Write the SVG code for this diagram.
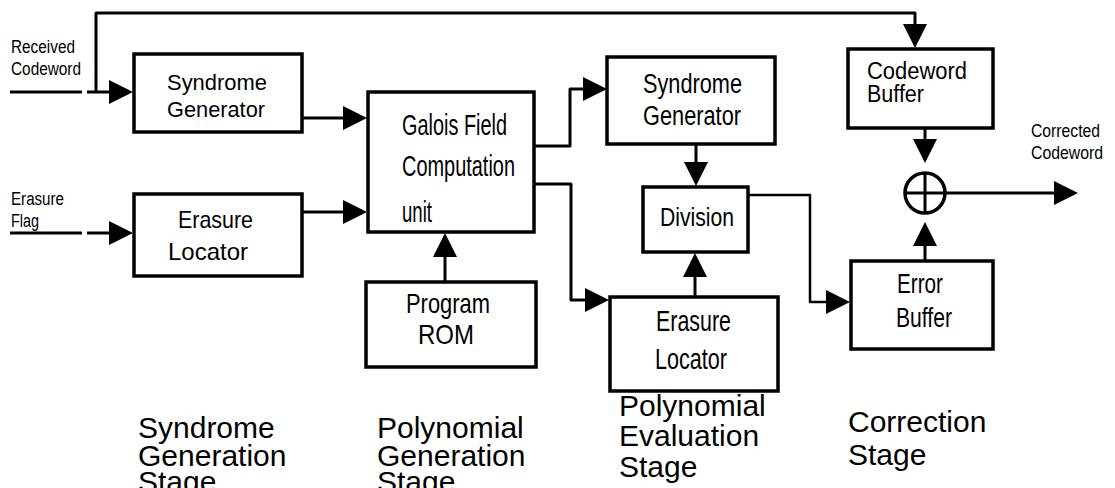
<svg xmlns="http://www.w3.org/2000/svg" width="1115" height="488" viewBox="0 0 1115 488">
<style>
.box{fill:#fff;stroke:#000;stroke-width:3.5}
.ln{fill:none;stroke:#000;stroke-width:3;stroke-linejoin:round}
.thin{stroke-width:2.5}
text{font-family:"Liberation Sans",Arial,sans-serif;fill:#000}
.sm{font-size:18px}
.st{font-size:30px}
</style>
<defs>
<marker id="ah" markerUnits="userSpaceOnUse" markerWidth="24" markerHeight="24" viewBox="0 0 24 24" refX="0" refY="12" orient="auto" overflow="visible">
<path d="M0,0 L24,12 L0,24 z" fill="#000"/>
</marker>
</defs>
<rect width="1115" height="488" fill="#fff"/>

<g id="connectors">
<path class="ln" d="M10,92 H82 M87,92 H109" marker-end="url(#ah)"/>
<path class="ln" d="M96,92 V13 H915 V24" marker-end="url(#ah)"/>
<path class="ln" d="M10,233 H82 M87,233 H109" marker-end="url(#ah)"/>
<path class="ln" d="M302,118 H343" marker-end="url(#ah)"/>
<path class="ln" d="M302,212 H343" marker-end="url(#ah)"/>
<path class="ln" d="M534,146 H570 V89 H583" marker-end="url(#ah)"/>
<path class="ln" d="M534,184 H571 V300 H585" marker-end="url(#ah)"/>
<path class="ln" d="M445,282 V257" marker-end="url(#ah)"/>
<path class="ln" d="M696,144 V162" marker-end="url(#ah)"/>
<path class="ln" d="M695,296 V277" marker-end="url(#ah)"/>
<path class="ln thin" d="M748,195 H810 V302 H826" marker-end="url(#ah)"/>
<path class="ln" d="M925,128 V139" marker-end="url(#ah)"/>
<path class="ln" d="M925,260 V246" marker-end="url(#ah)"/>
<path class="ln" d="M945,193 H1054" marker-end="url(#ah)"/>
</g>

<g id="label-received">
<text class="sm" x="11" y="53" textLength="64" lengthAdjust="spacingAndGlyphs">Received</text>
<text class="sm" x="11" y="75" textLength="70" lengthAdjust="spacingAndGlyphs">Codeword</text>
</g>
<g id="label-erasure-flag">
<text class="sm" x="11" y="205" textLength="53" lengthAdjust="spacingAndGlyphs">Erasure</text>
<text class="sm" x="11" y="227" textLength="28" lengthAdjust="spacingAndGlyphs">Flag</text>
</g>
<g id="label-corrected">
<text class="sm" x="1031" y="137" textLength="69" lengthAdjust="spacingAndGlyphs">Corrected</text>
<text class="sm" x="1031" y="159" textLength="72" lengthAdjust="spacingAndGlyphs">Codeword</text>
</g>

<g id="syndrome-generator-1">
<rect class="box" x="134" y="54" width="168" height="78"/>
<text x="167" y="90" font-size="22" textLength="100" lengthAdjust="spacingAndGlyphs">Syndrome</text>
<text x="167" y="117" font-size="22" textLength="98" lengthAdjust="spacingAndGlyphs">Generator</text>
</g>
<g id="erasure-locator-1">
<rect class="box" x="134" y="194" width="168" height="82"/>
<text x="178" y="228" font-size="24" textLength="75" lengthAdjust="spacingAndGlyphs">Erasure</text>
<text x="168" y="260" font-size="24" textLength="80" lengthAdjust="spacingAndGlyphs">Locator</text>
</g>
<g id="galois-field">
<rect class="box" x="368" y="92" width="166" height="140"/>
<text x="402" y="135" font-size="30" textLength="105" lengthAdjust="spacingAndGlyphs">Galois Field</text>
<text x="402" y="176" font-size="30" textLength="113" lengthAdjust="spacingAndGlyphs">Computation</text>
<text x="402" y="222" font-size="30" textLength="30" lengthAdjust="spacingAndGlyphs">unit</text>
</g>
<g id="program-rom">
<rect class="box" x="366" y="282" width="170" height="85"/>
<text x="406" y="313" font-size="28" textLength="84" lengthAdjust="spacingAndGlyphs">Program</text>
<text x="418" y="344" font-size="28" textLength="56" lengthAdjust="spacingAndGlyphs">ROM</text>
</g>
<g id="syndrome-generator-2">
<rect class="box" x="607" y="57" width="168" height="87"/>
<text x="643" y="93" font-size="27" textLength="99" lengthAdjust="spacingAndGlyphs">Syndrome</text>
<text x="643" y="125" font-size="27" textLength="98" lengthAdjust="spacingAndGlyphs">Generator</text>
</g>
<g id="division">
<rect class="box" x="643" y="187" width="105" height="65"/>
<text x="660" y="226" font-size="25" textLength="74" lengthAdjust="spacingAndGlyphs">Division</text>
</g>
<g id="erasure-locator-2">
<rect class="box" x="610" y="297" width="168" height="94"/>
<text x="656" y="331" font-size="29" textLength="75" lengthAdjust="spacingAndGlyphs">Erasure</text>
<text x="655" y="369" font-size="29" textLength="72" lengthAdjust="spacingAndGlyphs">Locator</text>
</g>
<g id="codeword-buffer">
<rect class="box" x="848" y="49" width="145" height="79"/>
<text x="867" y="79" font-size="23" textLength="100" lengthAdjust="spacingAndGlyphs">Codeword</text>
<text x="867" y="102" font-size="23" textLength="57" lengthAdjust="spacingAndGlyphs">Buffer</text>
</g>
<g id="xor">
<circle cx="925" cy="193" r="20" fill="#fff" stroke="#000" stroke-width="3.5"/>
<path d="M905,193 H945 M925,173 V213" stroke="#000" stroke-width="3"/>
</g>
<g id="error-buffer">
<rect class="box" x="851" y="261" width="142" height="88"/>
<text x="897" y="293" font-size="27" textLength="46" lengthAdjust="spacingAndGlyphs">Error</text>
<text x="896" y="327" font-size="27" textLength="56" lengthAdjust="spacingAndGlyphs">Buffer</text>
</g>

<g id="stage-1">
<text class="st" x="138" y="438">Syndrome</text>
<text class="st" x="138" y="466">Generation</text>
<text class="st" x="138" y="492">Stage</text>
</g>
<g id="stage-2">
<text class="st" x="377" y="438">Polynomial</text>
<text class="st" x="377" y="466">Generation</text>
<text class="st" x="377" y="492">Stage</text>
</g>
<g id="stage-3">
<text class="st" x="619" y="416">Polynomial</text>
<text class="st" x="619" y="446">Evaluation</text>
<text class="st" x="619" y="477">Stage</text>
</g>
<g id="stage-4">
<text class="st" x="848" y="432">Correction</text>
<text class="st" x="848" y="465">Stage</text>
</g>
</svg>
